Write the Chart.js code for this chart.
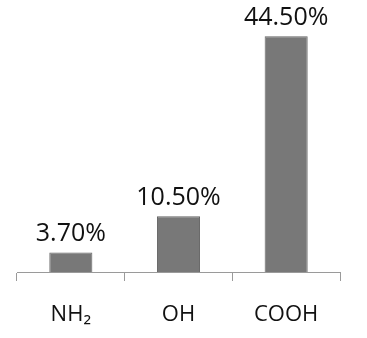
<!DOCTYPE html>
<html>
<head>
<meta charset="utf-8">
<script src="https://cdn.jsdelivr.net/npm/chart.js@4"></script>
<style>
  html, body { margin: 0; padding: 0; background: #fff; }
  #wrap { width: 367px; height: 338px; }
</style>
</head>
<body>
<div id="wrap"><canvas id="groupChart"></canvas></div>
<script>
const groups = ["NH\u2082", "OH", "COOH"];
const percents = [3.7, 10.5, 44.5];

// draws "xx.xx%" over each bar
const valueLabels = {
    id: 'valueLabels',
    afterDatasetsDraw(chart) {
        const ctx = chart.ctx;
        const meta = chart.getDatasetMeta(0);
        ctx.save();
        ctx.font = '25px "Open Sans"';
        ctx.fillStyle = '#111';
        ctx.textAlign = 'center';
        ctx.textBaseline = 'alphabetic';
        meta.data.forEach((bar, i) => {
            ctx.fillText(percents[i].toFixed(2) + '%', bar.x, bar.y - 11);
        });
        ctx.restore();
    }
};

document.addEventListener("DOMContentLoaded", function() {
    new Chart(document.getElementById("groupChart"), {
        type: 'bar',
        data: {
            labels: groups,
            datasets: [{
                data: percents,
                backgroundColor: '#787878',
                borderColor: '#666',
                borderWidth: 1,
                barPercentage: 0.4,
                categoryPercentage: 1
            }]
        },
        options: {
            responsive: true,
            maintainAspectRatio: false,
            animation: false,
            layout: { padding: { left: 17, right: 27, top: 7, bottom: 0 } },
            plugins: { legend: { display: false }, tooltip: { enabled: false } },
            scales: {
                y: { display: false, min: 0, max: 50 },
                x: {
                    offset: true,
                    afterFit: function(scale) { scale.height = 66; }, // axis sits at y=272
                    grid: {
                        offset: true,
                        drawOnChartArea: false,
                        tickLength: 9,
                        color: '#9a9a9a'
                    },
                    border: { color: '#9a9a9a', width: 1 },
                    ticks: {
                        color: '#111',
                        padding: 21,
                        font: { family: 'Open Sans', size: 22 }
                    }
                }
            }
        },
        plugins: [valueLabels]
    });
});
</script>
</body>
</html>
